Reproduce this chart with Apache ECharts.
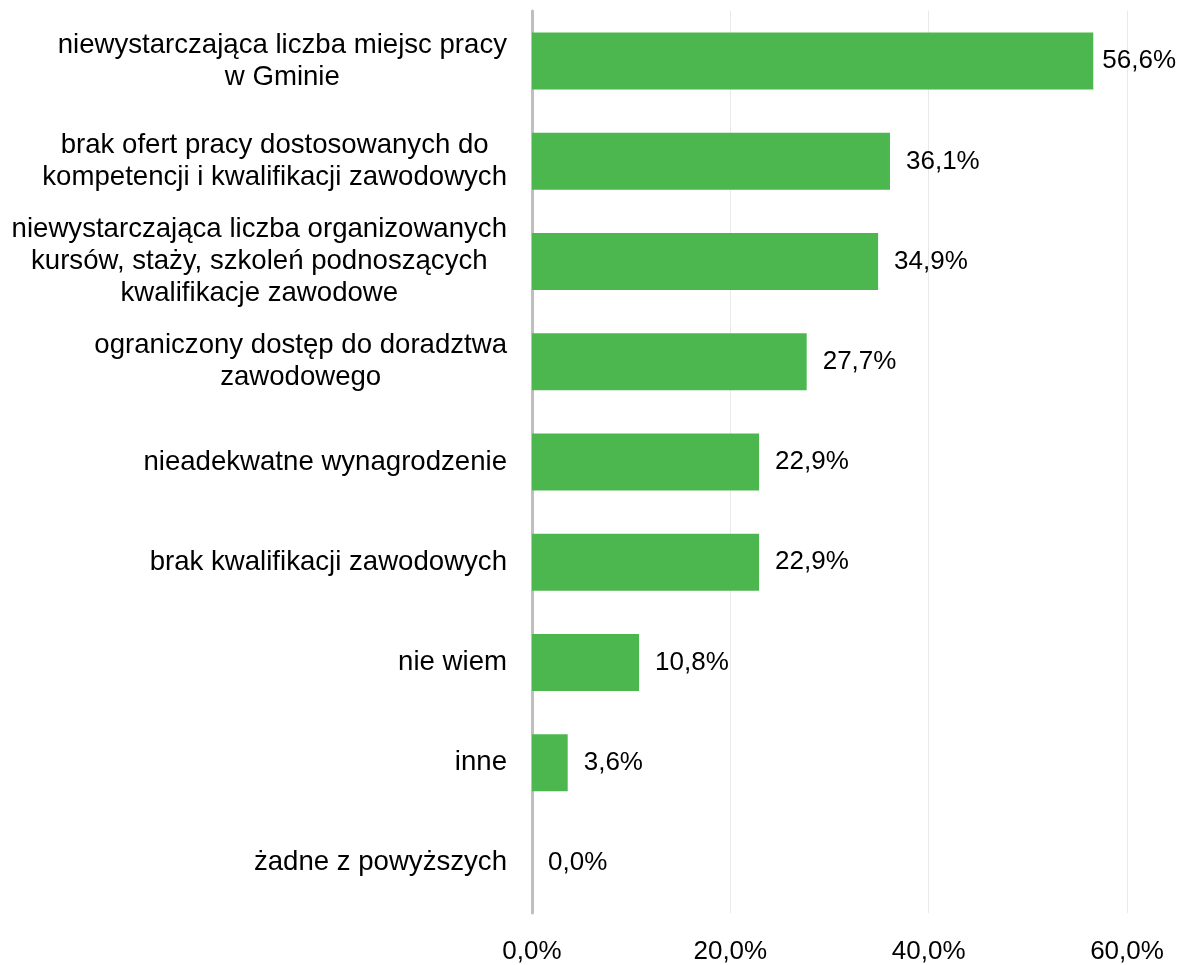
<!DOCTYPE html>
<html>
<head>
<meta charset="utf-8">
<script src="https://cdn.jsdelivr.net/npm/echarts@6/dist/echarts.min.js"></script>
<style>
html, body { margin: 0; padding: 0; background: #fff; }
#main { width: 1181px; height: 965px; }
</style>
</head>
<body>
<div id="main"></div>
<script>
var categories = [
	'niewystarczająca liczba miejsc pracy\nw Gminie',
	'brak ofert pracy dostosowanych do\nkompetencji i kwalifikacji zawodowych',
	'niewystarczająca liczba organizowanych\nkursów, staży, szkoleń podnoszących\nkwalifikacje zawodowe',
	'ograniczony dostęp do doradztwa\nzawodowego',
	'nieadekwatne wynagrodzenie',
	'brak kwalifikacji zawodowych',
	'nie wiem',
	'inne',
	'żadne z powyższych'
];
var values = [56.6, 36.1, 34.9, 27.7, 22.9, 22.9, 10.8, 3.6, 0.0];
var ticks = [0, 20, 40, 60];

function pct(v) {
	return v.toFixed(1).replace('.', ',') + '%';
}

var myChart = echarts.init(document.getElementById('main'));
var option = {
	backgroundColor: '#fff',
	textStyle: { fontFamily: 'Liberation Sans, Arial, sans-serif' },
	grid: { left: 532, right: 54, top: 11, bottom: 50 },
	xAxis: {
		type: 'value',
		min: ticks[0],
		max: ticks[ticks.length - 1],
		interval: 20,
		axisLine: { show: false },
		axisTick: { show: false },
		splitLine: { lineStyle: { color: '#e9e9e9', width: 1 } },
		axisLabel: {
			color: '#000',
			fontSize: 26,
			margin: 26,
			formatter: function (v) { return pct(v); }
		}
	},
	yAxis: {
		type: 'category',
		inverse: true,
		data: categories,
		axisLine: { lineStyle: { color: '#bfbfbf', width: 3 } },
		axisTick: { show: false },
		axisLabel: {
			color: '#000',
			fontSize: 27.6,
			margin: 25,
			align: 'right',
			lineHeight: 32,
			formatter: function (v) {
				return v.split('\n').map(function (l) { return '{c|' + l + '}'; }).join('\n');
			},
			rich: {
				c: { align: 'center', fontSize: 27.6, lineHeight: 32, color: '#000' }
			}
		}
	},
	series: [{
		type: 'bar',
		// label pulled closer to the bar where it would run off the right edge
		data: values.map(function (v) {
			return v > 55 ? { value: v, label: { distance: 9 } } : v;
		}),
		barWidth: 57,
		itemStyle: { color: '#4db74f' },
		label: {
			show: true,
			position: 'right',
			distance: 16,
			color: '#000',
			fontSize: 26,
			formatter: function (p) { return pct(p.value); }
		}
	}]
};
myChart.setOption(option);
</script>
</body>
</html>
